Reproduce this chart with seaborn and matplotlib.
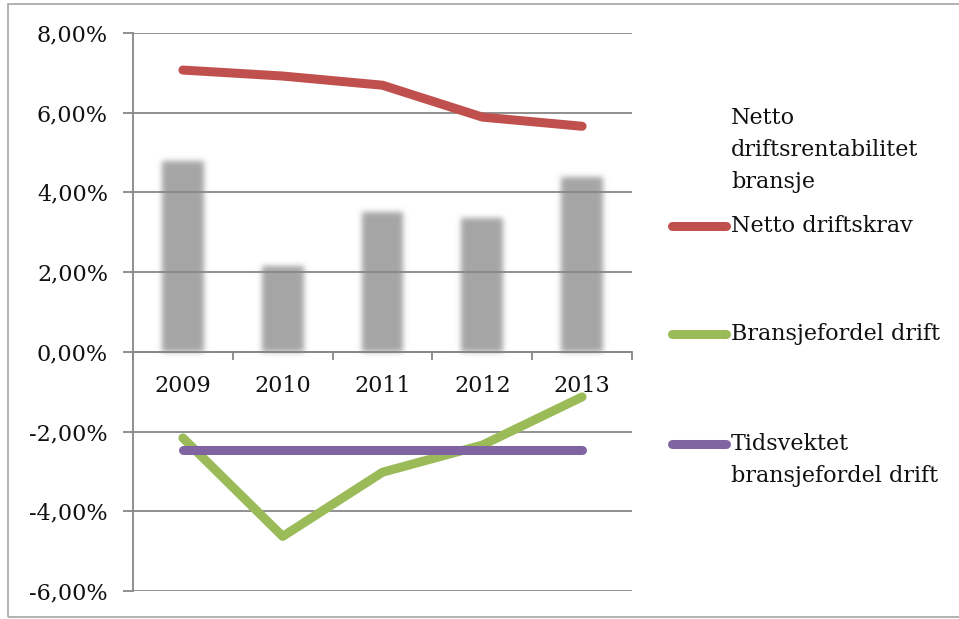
import numpy as np
import pandas as pd
import matplotlib
matplotlib.use("Agg")
import matplotlib.pyplot as plt
import seaborn as sns
from matplotlib.lines import Line2D
from matplotlib.patches import Rectangle
from matplotlib.ticker import FuncFormatter

# ---- data (percent) ----
years = ["2009", "2010", "2011", "2012", "2013"]
rentabilitet_bransje = [4.80, 2.16, 3.50, 3.37, 4.38]
driftskrav = [7.07, 6.92, 6.69, 5.89, 5.66]
bransjefordel = [-2.16, -4.63, -3.02, -2.34, -1.13]
tidsvektet = [-2.47, -2.47, -2.47, -2.47, -2.47]
y_ticks = [-6, -4, -2, 0, 2, 4, 6, 8]

series_labels = ["Netto\ndriftsrentabilitet\nbransje", "Netto driftskrav",
                 "Bransjefordel drift", "Tidsvektet\nbransjefordel drift"]

BAR_GREY = "#a5a5a5"
RED = "#c0504d"
GREEN = "#9bbb59"
PURPLE = "#8064a2"
AXIS_GREY = "#878787"
FONT = "DejaVu Serif"

sns.set_theme(style="white")
plt.rcParams["font.family"] = [FONT]

W, H = 959, 619
fig = plt.figure(figsize=(W / 100, H / 100), dpi=100)


def px(x, y):
    """pixel position -> figure fraction"""
    return x / W, 1 - y / H


left, right, top, bottom = 133, 632, 33, 591
ax = fig.add_axes([left / W, 1 - bottom / H, (right - left) / W, (bottom - top) / H])

df = pd.DataFrame({
    "year": years,
    "pos": np.arange(len(years)),
    "bar": rentabilitet_bransje,
    "krav": driftskrav,
    "fordel": bransjefordel,
    "tid": tidsvektet,
})


def soft_edges(rgb_hex, sigma):
    """agg filter: gaussian-blur the alpha of a patch, keep a flat colour"""
    rgb = np.array(matplotlib.colors.to_rgb(rgb_hex))
    r = int(3 * sigma) + 1
    k = np.exp(-0.5 * (np.arange(-r, r + 1) / sigma) ** 2)
    k /= k.sum()

    def _filter(im, dpi):
        a = np.pad(im[..., 3], ((r, r), (r, r)))
        tmp = np.zeros_like(a)
        for i, w in enumerate(k):
            tmp += w * np.roll(a, i - r, axis=0)
        out_a = np.zeros_like(a)
        for i, w in enumerate(k):
            out_a += w * np.roll(tmp, i - r, axis=1)
        out = np.zeros(a.shape + (4,))
        out[..., :3] = rgb
        out[..., 3] = out_a
        return out, -r, -r

    return _filter


sns.barplot(data=df, x="year", y="bar", color=BAR_GREY, saturation=1,
            width=0.42, ax=ax, zorder=1)
for patch in ax.patches:
    patch.set_edgecolor("none")
    patch.set_agg_filter(soft_edges(BAR_GREY, 2.8))

line_specs = [("krav", RED), ("fordel", GREEN), ("tid", PURPLE)]
for col, c in line_specs:
    sns.lineplot(data=df, x="pos", y=col, color=c, lw=6.5, ax=ax,
                 solid_capstyle="round", solid_joinstyle="round", zorder=4)

ax.set_xlim(-0.5, len(years) - 0.5)
ax.set_ylim(-6, 8)
ax.set_xlabel("")
ax.set_ylabel("")

# axes styling
ax.set_axisbelow(False)
ax.yaxis.grid(True, color=AXIS_GREY, lw=1.3)
ax.xaxis.grid(False)
for s in ("top", "right"):
    ax.spines[s].set_visible(False)
ax.spines["left"].set_color(AXIS_GREY)
ax.spines["left"].set_linewidth(1.3)
ax.spines["bottom"].set_color(AXIS_GREY)
ax.spines["bottom"].set_linewidth(1.3)
ax.spines["bottom"].set_position(("data", 0))

ax.set_yticks(y_ticks)
ax.yaxis.set_major_formatter(FuncFormatter(lambda v, _: f"{v:.2f}%".replace(".", ",")))
ax.tick_params(axis="y", which="major", direction="out", length=7, width=1.3,
               color=AXIS_GREY, pad=11, labelsize=16, labelcolor="#111111", left=True)

ax.set_xticks(range(len(years)), years)
ax.set_xticks(np.arange(-0.5, len(years), 1), minor=True)
ax.tick_params(axis="x", which="major", length=0, pad=17, labelsize=16,
               labelcolor="#111111", bottom=True)
ax.tick_params(axis="x", which="minor", direction="out", length=6, width=1.3,
               color=AXIS_GREY, bottom=True)

# legend drawn beside the plot area
tx = 731
leg_font = dict(fontsize=16, color="#111111", va="center", ha="left", family=FONT)
for i, line in enumerate(series_labels[0].split("\n")):
    fig.text(*px(tx, 118 + 32 * i), line, **leg_font)

handle_rows = [(226, RED, series_labels[1]),
               (334, GREEN, series_labels[2]),
               (444, PURPLE, series_labels[3])]
for y, c, lab in handle_rows:
    x0, y0 = px(672, y)
    x1, _ = px(726, y)
    fig.add_artist(Line2D([x0, x1], [y0, y0], color=c, lw=6.5,
                          solid_capstyle="round", transform=fig.transFigure))
    for i, line in enumerate(lab.split("\n")):
        fig.text(*px(tx, y + 32 * i), line, **leg_font)

# outer chart frame
fx0, fy0 = px(8, 617)
fx1, fy1 = px(962, 4)
fig.add_artist(Rectangle((fx0, fy0), fx1 - fx0, fy1 - fy0, fill=False,
                         edgecolor="#a6a6a6", lw=1.2, transform=fig.transFigure))

fig.savefig("out.png", dpi=100, facecolor="white")
